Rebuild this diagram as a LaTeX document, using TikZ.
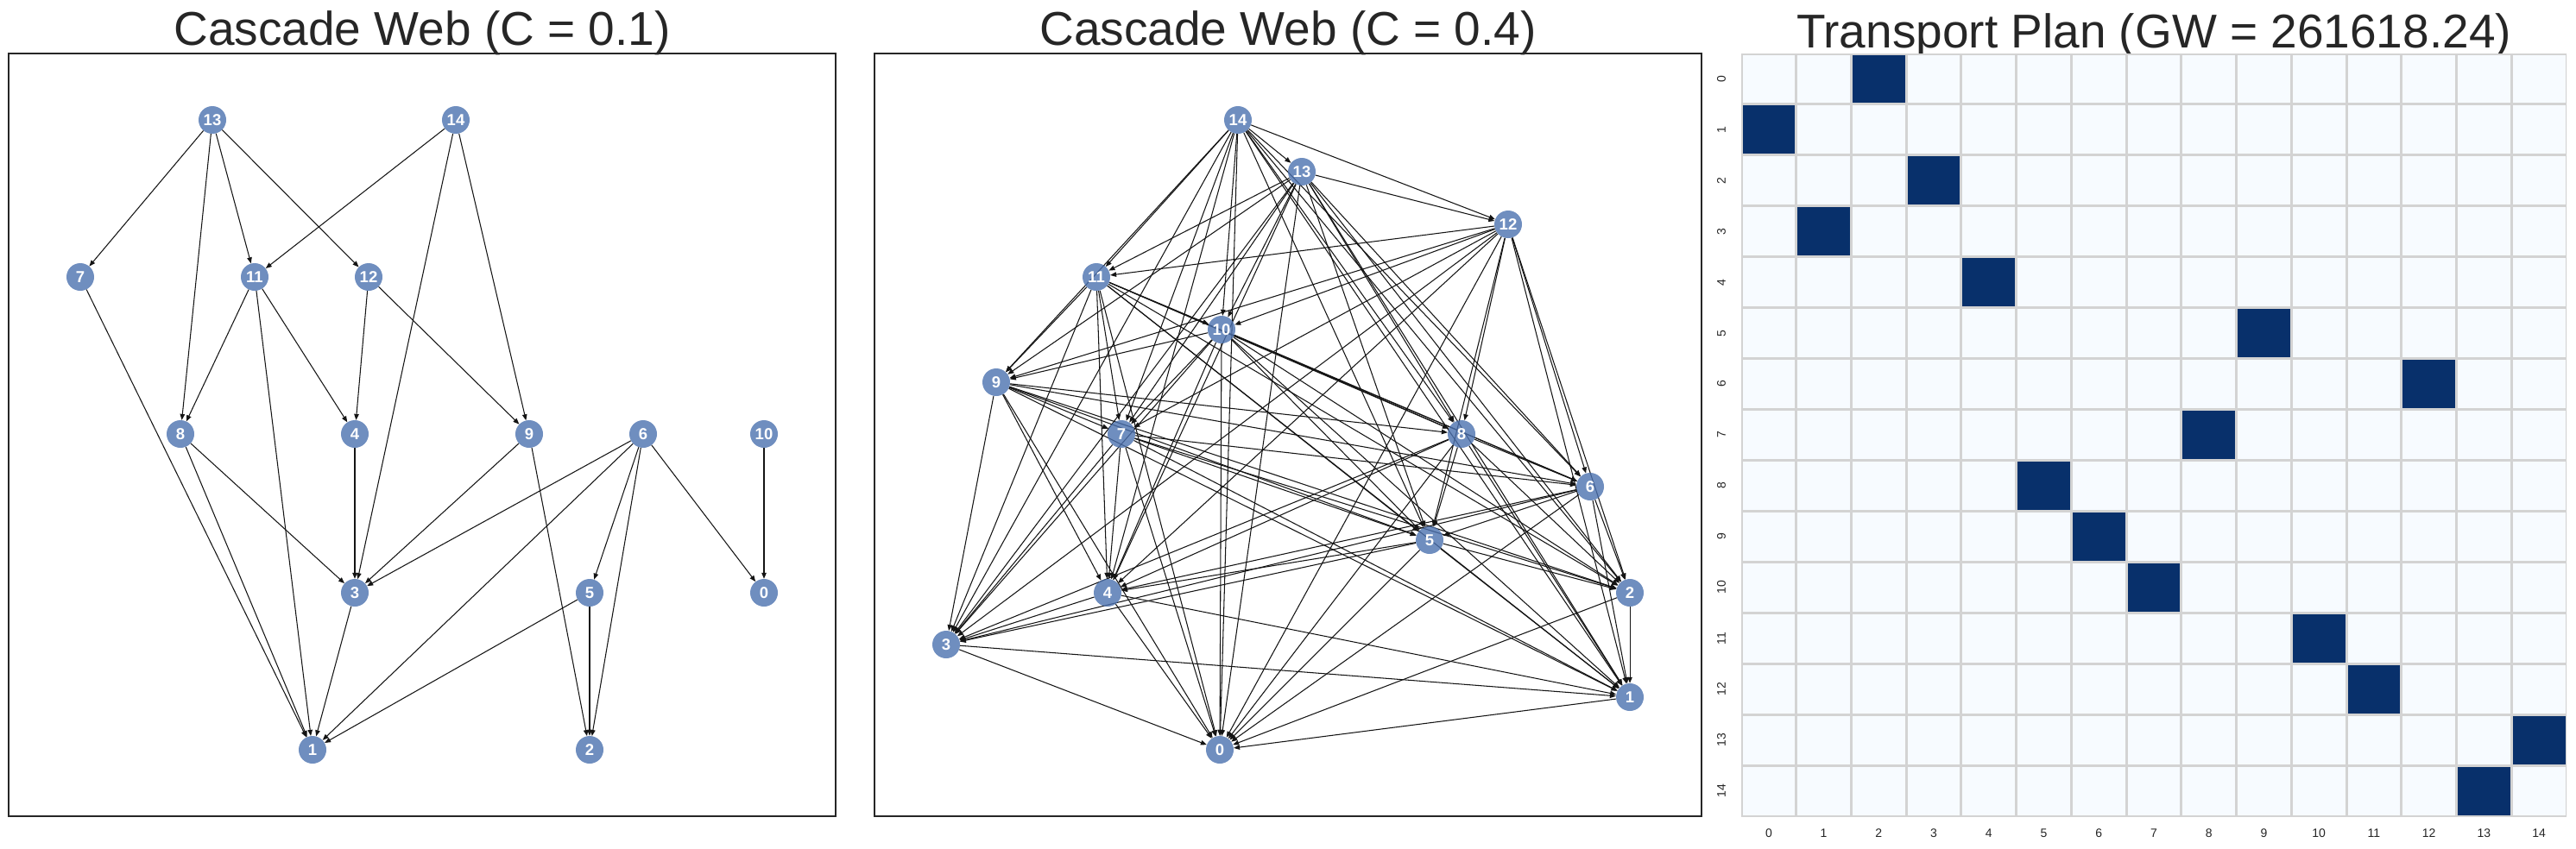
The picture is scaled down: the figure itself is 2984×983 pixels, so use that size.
\documentclass[tikz,border=0pt]{standalone}
\usepackage{fontspec}
\setmainfont{Liberation Sans}
\usetikzlibrary{arrows.meta}
\definecolor{nodeblue}{RGB}{76,114,176}
\definecolor{axcol}{RGB}{38,38,38}
\definecolor{txtcol}{RGB}{38,38,38}
\definecolor{cellbg}{HTML}{F7FBFF}
\definecolor{celldark}{HTML}{08306B}
\definecolor{gridcol}{RGB}{211,211,211}
\pgfdeclarelayer{fg}
\pgfsetlayers{main,fg}
\begin{document}
\begin{tikzpicture}[x=1pt,y=-1pt,
  vtx/.style={circle,fill=nodeblue,fill opacity=0.8,text opacity=1,inner sep=0pt,minimum size=32pt,text=white,font=\fontsize{18.5}{18.5}\selectfont\bfseries},
  arc/.style={-{Triangle[length=7pt,width=5.5pt]},line width=1.05pt,draw=black!92},
  titletext/.style={font=\fontsize{55}{60}\selectfont,text=txtcol,anchor=base,inner sep=0pt},
  tick/.style={font=\fontsize{14}{14}\selectfont,text=txtcol,inner sep=0pt},
  panel/.style={draw=axcol,line width=1.6pt},
  gridline/.style={draw=gridcol,line width=3pt}
]
\useasboundingbox[fill=white] (0,0) rectangle (2984,983);

% titles
\node[titletext] (t1) at (489,52) {Cascade Web (C = 0.1)};
\node[titletext] (t2) at (1492,52) {Cascade Web (C = 0.4)};
\node[titletext] (t3) at (2495,55) {Transport Plan (GW = 261618.24)};

% panel frames
\draw[panel] (10,62) rectangle (968,946);
\draw[panel] (1013,62) rectangle (1971,946);

% ---------- left graph ----------
\begin{pgfonlayer}{fg}
\foreach \n/\x/\y in {13/246/139,14/528/139,7/93/321,11/295/321,12/427/321,
  8/209/503,4/411/503,9/613/503,6/745/503,10/885/503,
  3/411/687,5/683/687,0/885/687,1/362/869,2/683/869}
  \node[vtx] (l\n) at (\x,\y) {\n};
\end{pgfonlayer}
\foreach \s/\t in {13/7,13/8,13/11,13/12,14/11,14/3,14/9,7/1,11/8,11/1,11/4,12/4,12/9,
  8/1,8/3,4/3,9/3,9/2,6/3,6/1,6/5,6/2,6/0,10/0,3/1,5/1,5/2}
  \draw[arc] (l\s) -- (l\t);

% ---------- middle graph ----------
\begin{pgfonlayer}{fg}
\foreach \n/\x/\y in {14/1434/139,13/1508/199,12/1747/260,11/1270/321,10/1415/382,
  9/1154/443,8/1693/503,7/1299/503,6/1842/564,5/1656/626,4/1283/687,
  3/1096/747,2/1888/687,1/1888/808,0/1413/869}
  \node[vtx] (m\n) at (\x,\y) {\n};
\end{pgfonlayer}
\foreach \s/\ts in {14/{13,12,11,10,9,8,7,6,5,4,3,2,1,0},
  13/{12,11,10,9,8,7,6,5,4,3,2,1,0},
  12/{11,10,9,8,7,6,5,4,3,2,1,0},
  11/{10,9,8,7,6,5,4,3,2,1,0},
  10/{9,8,7,6,5,4,3,2,1,0},
  9/{8,7,6,5,4,3,2,1,0},
  8/{6,5,4,3,2,1,0},
  7/{6,5,4,3,2,1,0},
  6/{5,4,3,2,1,0},
  5/{4,3,2,1,0},
  4/{3,1,0},
  3/{1,0},
  2/{1,0},
  1/{0}}
  \foreach \t in \ts
    \draw[arc] (m\s) -- (m\t);

% ---------- heatmap ----------
\fill[cellbg] (2017,62) rectangle (2973,946);
\foreach \r/\c in {0/2,1/0,2/3,3/1,4/4,5/9,6/12,7/8,8/5,9/6,10/7,11/10,12/11,13/14,14/13}
  \fill[celldark] ({2017+\c*63.733},{62+\r*58.933}) rectangle ++(63.733,58.933);
\begin{scope}
  \clip (2017,62) rectangle (2973,946);
  \foreach \k in {0,...,15} {
    \draw[gridline] ({2017+\k*63.733},62) -- ++(0,884);
    \draw[gridline] (2017,{62+\k*58.933}) -- ++(956,0);
  }
\end{scope}
\foreach \k in {0,...,14} {
  \node[tick,rotate=90] (yt\k) at (1994,{62+(\k+0.5)*58.933}) {\k};
  \node[tick] (xt\k) at ({2017+(\k+0.5)*63.733},966) {\k};
}
\end{tikzpicture}
\end{document}
